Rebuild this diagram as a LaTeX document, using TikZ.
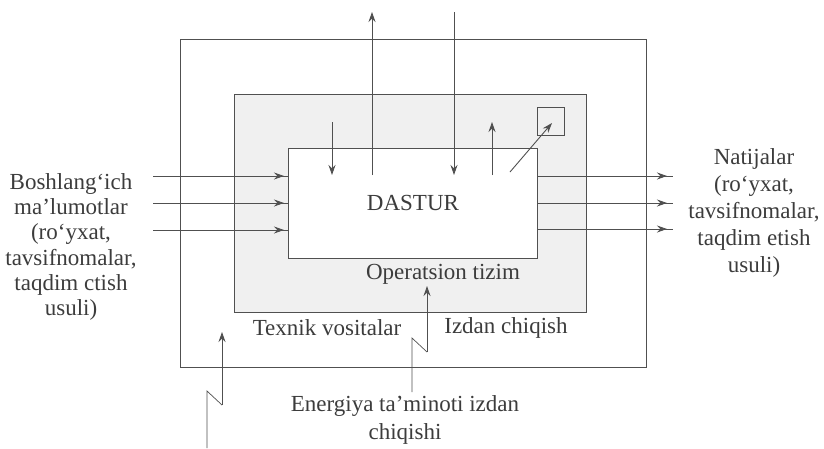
\documentclass[tikz,border=0pt]{standalone}
\usepackage{fontspec}
\setmainfont{Liberation Serif}
\usetikzlibrary{arrows.meta,calc}
\definecolor{lncol}{HTML}{505050}
\definecolor{txcol}{HTML}{3C3C3C}
\definecolor{fillg}{HTML}{F0F0F0}
\begin{document}
\begin{tikzpicture}[x=1pt,y=-1pt, line width=0.9pt,
  every node/.style={text=txcol, font=\fontsize{23}{26}\selectfont},
  box/.style={draw=lncol, rectangle, inner sep=0pt, anchor=north west},
  wire/.style={draw=lncol},
  arr/.style={draw=lncol, -{Stealth[length=10pt,width=7pt]}},
  lbl/.style={align=center, inner sep=0pt}]
\useasboundingbox (0,0) rectangle (824,448);
% frames
\node[box, minimum width=466pt, minimum height=328pt] (outer) at (180,39) {};
\node[box, fill=fillg, minimum width=352pt, minimum height=218pt] (inner) at (234,94) {};
\node[box, fill=white, minimum width=249pt, minimum height=110pt] (dastur) at (288,148) {DASTUR};
\node[box, minimum width=27pt, minimum height=28pt] (sq) at (537,107) {};
% input arrows
\foreach \y/\n in {176/1, 203/2, 230/3} {
  \coordinate (li\n) at (153,\y);
  \draw[wire] (li\n) -- (li\n -| dastur.west);
  \draw[arr] (li\n) -- ($(li\n -| dastur.west)+(-4,0)$);
}
% output arrows
\foreach \y/\n in {176/1, 203/2, 229/3} {
  \coordinate (ro\n) at (673,\y);
  \draw[wire] (ro\n -| dastur.east) -- (ro\n);
  \draw[arr] (ro\n -| dastur.east) -- ($(ro\n)+(-6,0)$);
}
% top long lines
\coordinate (t1a) at (372,175); \coordinate (t1b) at (372,12);
\draw[arr] (t1a) -- (t1b);
\coordinate (t2a) at (454,12); \coordinate (t2b) at (454,175);
\draw[arr] (t2a) -- (t2b);
% small arrows inside
\coordinate (s1a) at (332,122); \coordinate (s1b) at (332,175);
\draw[arr] (s1a) -- (s1b);
\coordinate (s2a) at (492,175); \coordinate (s2b) at (492,122);
\draw[arr] (s2a) -- (s2b);
\coordinate (s3a) at (510,172); \coordinate (s3b) at (552,123);
\draw[arr] (s3a) -- (s3b);
% middle lightning
\coordinate (m0) at (427,286);
\coordinate (m1) at (427,352); \coordinate (m2) at (412,338); \coordinate (m3) at (412,392);
\draw[arr] (m1) -- (m0);
\draw[wire, line width=0.7pt] (m1) -- (m2) -- (m3);
% left lightning
\coordinate (b0) at (222,332);
\coordinate (b1) at (222,405); \coordinate (b2) at (207,391); \coordinate (b3) at (207,448);
\draw[arr] (b1) -- (b0);
\draw[wire, line width=0.7pt] (b1) -- (b2) -- (b3);
% labels
\node[lbl, font=\fontsize{23}{25.2}\selectfont] (inl) at (71,247) {Boshlang‘ich\\ma’lumotlar\\(ro‘yxat,\\tavsifnomalar,\\taqdim ctish\\usuli)};
\node[lbl, font=\fontsize{23}{27}\selectfont] (outl) at (754,213) {Natijalar\\(ro‘yxat,\\tavsifnomalar,\\taqdim etish\\usuli)};
\node[lbl] (os) at (443,274) {Operatsion tizim};
\node[lbl] (tv) at (327,328) {Texnik vositalar};
\node[lbl] (iz) at (506,328) {Izdan chiqish};
\node[lbl, font=\fontsize{23}{28}\selectfont] (en) at (405,420) {Energiya ta’minoti izdan\\chiqishi};
\end{tikzpicture}
\end{document}
